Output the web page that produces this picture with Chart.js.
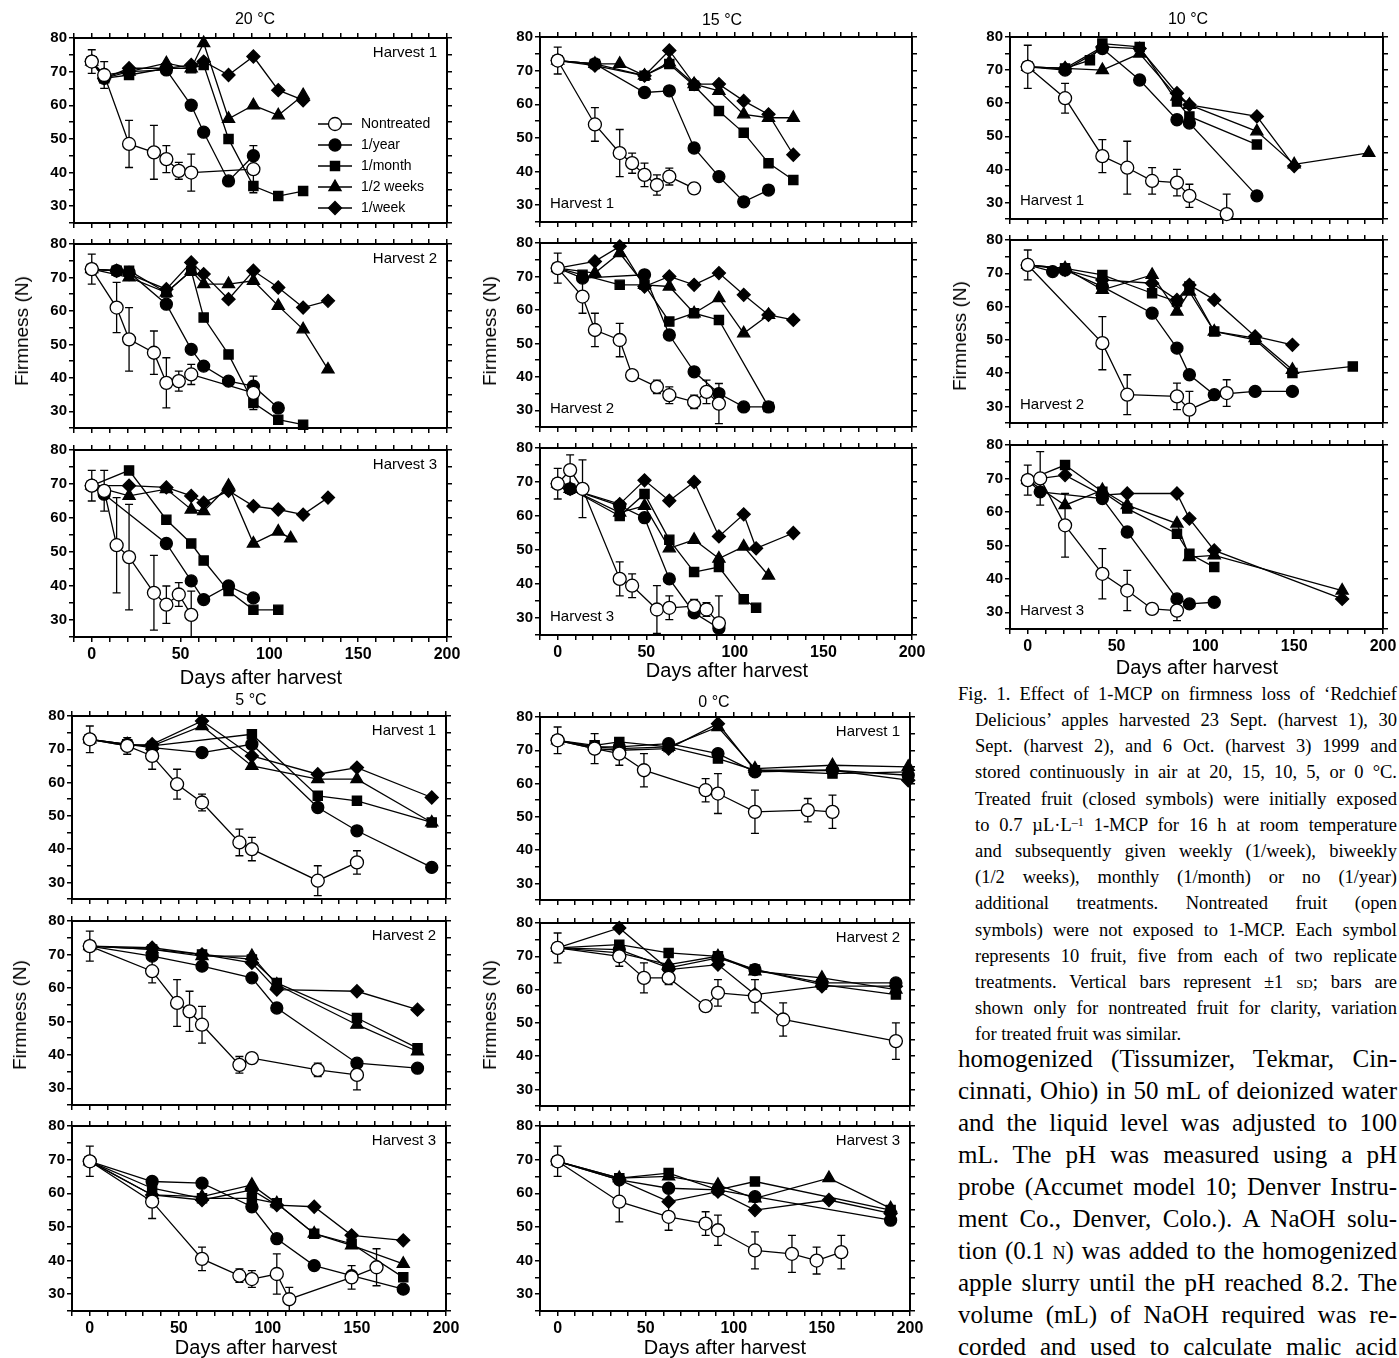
<!DOCTYPE html>
<html>
<head>
<meta charset="utf-8">
<script src="https://cdn.jsdelivr.net/npm/chart.js@4.4.1/dist/chart.umd.min.js"></script>
<style>
  body { margin: 0; background: #fff; width: 1399px; height: 1358px; position: relative; overflow: hidden;
         font-family: "Liberation Sans", Arial, sans-serif; color: #000; }
  canvas { position: absolute; }
  .lbl { position: absolute; white-space: nowrap; transform: translate(-50%, -50%); }
  .temp { font-size: 16px; }
  .xt { font-size: 20px; }
  .yt { font-size: 19px; transform: translate(-50%, -50%) rotate(-90deg); }
  .ln { position: absolute; white-space: nowrap; font-family: "Liberation Serif", "Times New Roman", serif; }
  .sc { font-variant: small-caps; }
  sup { font-size: 65%; vertical-align: 0.45em; line-height: 0; }
</style>
</head>
<body>
<script>
const seriesLabels = ["Nontreated", "1/year", "1/month", "1/2 weeks", "1/week"];
const yTickLabels = [30, 40, 50, 60, 70, 80];
const xTickLabels = [0, 50, 100, 150, 200];

// values: [days after harvest, firmness (N)]; Sd = error bar for nontreated fruit

// 20 °C
const c20h1Non = [[0,73],[7,69],[21,48.5],[35,46],[42,44],[49,40.5],[56,40],[91,41]];
const c20h1Sd = [3.5,4,7,8,4,2.5,5.5,7];
const c20h1Year = [[0,73],[7,68],[21,70],[42,70.5],[56,60],[63,52],[77,37.5],[91,45]];
const c20h1Month = [[0,73],[7,68],[21,69],[42,71],[56,71],[63,72],[77,50],[91,36],[105,33],[119,34.5]];
const c20h1Biweek = [[0,73],[7,69],[21,70],[42,72.5],[56,71],[63,78.5],[77,56],[91,60],[105,57],[119,63]];
const c20h1Week = [[0,73],[7,68],[21,71],[42,71],[56,72],[63,73],[77,69],[91,74.5],[105,64.5],[119,61.5]];

const c20h2Non = [[0,72.5],[14,61],[21,51.5],[35,47.5],[42,38.5],[49,39],[56,41],[91,35.5]];
const c20h2Sd = [4.5,7.5,9.5,6.5,7.5,3,3,5];
const c20h2Year = [[0,72.5],[14,72],[21,71.5],[42,62],[56,48.5],[63,43.5],[77,39],[91,37.5],[105,31]];
const c20h2Month = [[0,72.5],[14,72],[21,72],[42,65.5],[56,72],[63,58],[77,47],[91,32.5],[105,27.5],[119,26]];
const c20h2Biweek = [[0,72.5],[21,70],[42,65.5],[56,72],[63,68],[77,68],[91,69],[105,61.5],[119,54.5],[133,42.5]];
const c20h2Week = [[0,72.5],[14,72],[21,71],[42,66.5],[56,74.5],[63,71],[77,63.5],[91,72],[105,67],[119,61],[133,63]];

const c20h3Non = [[0,69.5],[7,68],[14,52],[21,48.5],[35,38],[42,34.5],[49,37.5],[56,31.5]];
const c20h3Sd = [4.5,6,14,15.5,11,5.5,3.5,7];
const c20h3Year = [[0,69.5],[7,67],[42,52.5],[56,41.5],[63,36],[77,40],[91,36.5]];
const c20h3Month = [[0,69.5],[21,74],[42,59.5],[56,52.5],[63,47.5],[77,38.5],[91,33],[105,33]];
const c20h3Biweek = [[0,69.5],[21,66.5],[42,68.5],[56,62.5],[63,62],[77,69.5],[91,52.5],[105,56],[112,54]];
const c20h3Week = [[0,69.5],[21,69.5],[42,69],[56,66.5],[63,64.5],[77,68],[91,63.5],[105,62.5],[119,61],[133,66]];

// 15 °C
const c15h1Non = [[0,73],[21,54],[35,45.5],[42,42.5],[49,39],[56,36],[63,38.5],[77,35]];
const c15h1Sd = [4,5,7,3,3.5,3,2.5,1.5];
const c15h1Year = [[0,73],[21,72],[49,63.5],[63,64],[77,47],[91,38.5],[105,31],[119,34.5]];
const c15h1Month = [[0,73],[21,72],[49,68.5],[63,72],[77,65.5],[91,58],[105,51.5],[119,42.5],[133,37.5]];
const c15h1Biweek = [[0,73],[21,72],[35,72],[49,68.5],[63,72.5],[77,66],[91,64],[105,57],[119,56],[133,56]];
const c15h1Week = [[0,73],[21,71.5],[49,68.5],[63,76],[77,66],[91,66],[105,61],[119,57],[133,45]];

const c15h2Non = [[0,72.5],[14,64],[21,54],[35,51],[42,40.5],[56,37],[63,34.5],[77,32.5],[84,35.5],[91,32]];
const c15h2Sd = [4.5,5,5,5,1,2,2.5,2,3.5,6];
const c15h2Year = [[0,72.5],[14,69.5],[49,70.5],[63,52.5],[77,41.5],[91,35],[105,31],[119,31]];
const c15h2Month = [[0,72.5],[14,70.5],[35,67.5],[49,67.5],[63,56.5],[77,59],[91,57],[119,31]];
const c15h2Biweek = [[0,72.5],[21,71],[35,77],[49,67.5],[63,67],[77,59],[91,63.5],[105,53],[119,58.5]];
const c15h2Week = [[0,72.5],[21,74.5],[35,79],[49,67],[63,70],[77,67.5],[91,71],[105,64.5],[119,58.5],[133,57]];

const c15h3Non = [[0,69.5],[7,73.5],[14,68],[35,41.5],[42,39.5],[56,32.5],[63,33],[77,33.5],[84,32.5],[91,28.5]];
const c15h3Sd = [4.5,4.5,8.5,5,3.5,7,3.5,2,2,8];
const c15h3Year = [[0,69.5],[7,68],[35,63],[49,59.5],[63,41.5],[77,31.5],[91,27]];
const c15h3Month = [[0,69.5],[7,68],[35,60],[49,66.5],[63,53],[77,43.5],[91,45],[105,35.5],[112,33]];
const c15h3Biweek = [[0,69.5],[7,68],[35,61],[49,63],[63,50.5],[77,53],[91,47.5],[105,51],[119,42.5]];
const c15h3Week = [[0,69.5],[7,68],[35,63.5],[49,70.5],[63,64.5],[77,70],[91,54],[105,60.5],[112,50.5],[133,55]];

// 10 °C
const c10h1Non = [[0,71],[21,61.5],[42,44],[56,40.5],[70,36.5],[84,36],[91,32],[112,26.5]];
const c10h1Sd = [6.5,4.5,5,8,4,4,3.5,6];
const c10h1Year = [[0,71],[21,70],[42,76.5],[63,67],[84,55],[91,54],[129,32]];
const c10h1Month = [[0,71],[21,70.5],[35,73],[42,78],[63,77],[84,60.5],[91,56],[129,47.5]];
const c10h1Biweek = [[0,71],[21,70.5],[42,70],[63,75],[84,62],[91,59.5],[129,51.5],[150,41.5],[192,45]];
const c10h1Week = [[0,71],[21,70.5],[42,77],[63,76.5],[84,63],[91,59.5],[129,56],[150,41]];

const c10h2Non = [[0,72.5],[42,49],[56,33.5],[84,33],[91,29],[112,34]];
const c10h2Sd = [4.5,8,6,4,5.5,4];
const c10h2Year = [[0,72.5],[14,70.5],[21,71],[42,66],[70,58],[84,47.5],[91,39.5],[105,33.5],[128,34.5],[149,34.5]];
const c10h2Month = [[0,72.5],[21,71.5],[42,69.5],[70,64],[84,61.5],[91,66],[105,52.5],[128,50],[149,40],[183,42]];
const c10h2Biweek = [[0,72.5],[21,71.5],[42,65],[70,69.5],[84,58.5],[91,64.5],[105,52.5],[128,50.5],[149,41]];
const c10h2Week = [[0,72.5],[21,71],[42,68],[70,67],[84,62],[91,66.5],[105,62],[128,51],[149,48.5]];

const c10h3Non = [[0,69.5],[7,70],[21,56],[42,41.5],[56,36.5],[70,31],[84,30.5]];
const c10h3Sd = [4.5,8,9.5,7.5,6,1.5,3];
const c10h3Year = [[0,69.5],[7,66],[42,64],[56,54],[84,34],[91,32.5],[105,33]];
const c10h3Month = [[0,69.5],[21,74],[42,66],[56,61],[84,53.5],[91,47.5],[105,43.5]];
const c10h3Biweek = [[0,69.5],[21,62],[42,66.5],[56,62],[84,56.5],[91,46.5],[105,47],[177,36.5]];
const c10h3Week = [[0,69.5],[21,71],[42,65],[56,65.5],[84,65.5],[91,58],[105,48.5],[177,34]];

// 5 °C
const c5h1Non = [[0,73],[21,71],[35,68],[49,59.5],[63,54],[84,42],[91,40],[128,30.5],[150,36]];
const c5h1Sd = [4,2.5,4,4.5,2.5,4,3.5,4.5,3.5];
const c5h1Year = [[0,73],[21,71.5],[35,70.5],[63,69],[91,71.5],[128,52.5],[150,45.5],[192,34.5]];
const c5h1Month = [[0,73],[21,71.5],[35,71],[91,74.5],[128,56],[150,54.5],[192,48]];
const c5h1Biweek = [[0,73],[21,71.5],[35,71],[63,77],[91,65],[128,61],[150,61],[192,48]];
const c5h1Week = [[0,73],[21,71],[35,71.5],[63,78.5],[91,68],[128,62.5],[150,64.5],[192,55.5]];

const c5h2Non = [[0,72.5],[35,65],[49,55.5],[56,53],[63,49],[84,37],[91,39],[128,35.5],[150,34]];
const c5h2Sd = [4.5,3.5,7,6,5.5,2.5,1,2,4.5];
const c5h2Year = [[0,72.5],[35,69.5],[63,66.5],[91,63],[105,54],[150,37.5],[184,36]];
const c5h2Month = [[0,72.5],[35,71.5],[63,70],[91,68.5],[105,61.5],[150,51],[184,42]];
const c5h2Biweek = [[0,72.5],[35,71.5],[63,69.5],[91,69.5],[105,61],[150,49],[184,41]];
const c5h2Week = [[0,72.5],[35,72],[63,70],[91,67.5],[105,59.5],[150,59],[184,53.5]];

const c5h3Non = [[0,69.5],[35,57.5],[63,40.5],[84,35.5],[91,34.5],[105,36],[112,28.5],[147,35],[161,38]];
const c5h3Sd = [4.5,5,3.5,2,2.5,6,3.5,3.5,5.5];
const c5h3Year = [[0,69.5],[35,63.5],[63,63],[91,56],[105,46.5],[126,38.5],[147,35.5],[176,31.5]];
const c5h3Month = [[0,69.5],[35,61.5],[63,58.5],[91,58.5],[105,57],[126,48],[147,45],[176,35]];
const c5h3Biweek = [[0,69.5],[35,59.5],[63,59],[91,62.5],[105,57],[126,48],[147,44.5],[176,39]];
const c5h3Week = [[0,69.5],[35,59.5],[63,58],[91,61],[105,56.5],[126,56],[147,47.5],[176,46]];

// 0 °C
const c0h1Non = [[0,73],[21,70.5],[35,69],[49,64],[84,58],[91,57],[112,51.5],[142,52],[156,51.5]];
const c0h1Sd = [4,4.5,3.5,5,3.5,6,6.5,3.5,5];
const c0h1Year = [[0,73],[21,71],[35,71],[63,72],[91,69],[112,63.5],[156,64],[199,62.5]];
const c0h1Month = [[0,73],[21,71.5],[35,72.5],[63,71],[91,67.5],[112,64],[156,63],[199,63.5]];
const c0h1Biweek = [[0,73],[21,71],[35,70.5],[63,71],[91,77],[112,64.5],[156,65.5],[199,65]];
const c0h1Week = [[0,73],[21,70.5],[35,70],[63,70.5],[91,78],[112,64],[156,64],[199,61]];

const c0h2Non = [[0,72.5],[35,70],[49,63.5],[63,63.5],[84,55],[91,59],[112,58],[128,51],[192,44.5]];
const c0h2Sd = [4.5,3,4.5,2,1,4,5,5,5.5];
const c0h2Year = [[0,72.5],[35,72],[63,66.5],[91,69.5],[112,66],[150,62],[192,62]];
const c0h2Month = [[0,72.5],[35,73.5],[63,71],[91,70],[112,66],[150,61.5],[192,58.5]];
const c0h2Biweek = [[0,72.5],[35,71],[63,67.5],[91,70],[112,65.5],[150,63.5],[192,60]];
const c0h2Week = [[0,72.5],[35,78.5],[63,66],[91,67.5],[112,58.5],[150,61],[192,61]];

const c0h3Non = [[0,69.5],[35,57.5],[63,53],[84,51],[91,49],[112,43],[133,42],[147,40],[161,42.5]];
const c0h3Sd = [4.5,6,4,3.5,4.5,5.5,5.5,4,5];
const c0h3Year = [[0,69.5],[35,64],[63,61.5],[91,61],[112,59],[189,52]];
const c0h3Month = [[0,69.5],[35,64.5],[63,66],[91,61],[112,63.5],[189,55]];
const c0h3Biweek = [[0,69.5],[35,64.5],[63,65],[91,62.5],[112,58.5],[154,64.5],[189,55.5]];
const c0h3Week = [[0,69.5],[35,64],[63,57.5],[91,60.5],[112,55],[154,58],[189,54]];

// panel boxes are the plot frames on the page: [left, top, right, bottom]
const panels = [
  { series: [c20h1Non, c20h1Year, c20h1Month, c20h1Biweek, c20h1Week], sd: c20h1Sd, text: "Harvest 1", pos: "tr", legend: true, box: [74, 38, 447, 225] },
  { series: [c20h2Non, c20h2Year, c20h2Month, c20h2Biweek, c20h2Week], sd: c20h2Sd, text: "Harvest 2", pos: "tr", box: [74, 244, 447, 430] },
  { series: [c20h3Non, c20h3Year, c20h3Month, c20h3Biweek, c20h3Week], sd: c20h3Sd, text: "Harvest 3", pos: "tr", xLabels: true, box: [74, 450, 447, 637] },
  { series: [c15h1Non, c15h1Year, c15h1Month, c15h1Biweek, c15h1Week], sd: c15h1Sd, text: "Harvest 1", pos: "bl", box: [540, 37, 912, 224] },
  { series: [c15h2Non, c15h2Year, c15h2Month, c15h2Biweek, c15h2Week], sd: c15h2Sd, text: "Harvest 2", pos: "bl", box: [540, 243, 912, 429] },
  { series: [c15h3Non, c15h3Year, c15h3Month, c15h3Biweek, c15h3Week], sd: c15h3Sd, text: "Harvest 3", pos: "bl", xLabels: true, box: [540, 448, 912, 635] },
  { series: [c10h1Non, c10h1Year, c10h1Month, c10h1Biweek, c10h1Week], sd: c10h1Sd, text: "Harvest 1", pos: "bl", box: [1010, 37, 1383, 221] },
  { series: [c10h2Non, c10h2Year, c10h2Month, c10h2Biweek, c10h2Week], sd: c10h2Sd, text: "Harvest 2", pos: "bl", box: [1010, 240, 1383, 425] },
  { series: [c10h3Non, c10h3Year, c10h3Month, c10h3Biweek, c10h3Week], sd: c10h3Sd, text: "Harvest 3", pos: "bl", xLabels: true, box: [1010, 445, 1383, 629] },
  { series: [c5h1Non, c5h1Year, c5h1Month, c5h1Biweek, c5h1Week], sd: c5h1Sd, text: "Harvest 1", pos: "tr", box: [72, 716, 446, 901] },
  { series: [c5h2Non, c5h2Year, c5h2Month, c5h2Biweek, c5h2Week], sd: c5h2Sd, text: "Harvest 2", pos: "tr", box: [72, 921, 446, 1107] },
  { series: [c5h3Non, c5h3Year, c5h3Month, c5h3Biweek, c5h3Week], sd: c5h3Sd, text: "Harvest 3", pos: "tr", xLabels: true, box: [72, 1126, 446, 1311] },
  { series: [c0h1Non, c0h1Year, c0h1Month, c0h1Biweek, c0h1Week], sd: c0h1Sd, text: "Harvest 1", pos: "tr", box: [540, 717, 910, 902] },
  { series: [c0h2Non, c0h2Year, c0h2Month, c0h2Biweek, c0h2Week], sd: c0h2Sd, text: "Harvest 2", pos: "tr", box: [540, 923, 910, 1108] },
  { series: [c0h3Non, c0h3Year, c0h3Month, c0h3Biweek, c0h3Week], sd: c0h3Sd, text: "Harvest 3", pos: "tr", xLabels: true, box: [540, 1126, 910, 1311] },
];

const markers = [
  { style: "circle", radius: 6.5, fill: "#fff" },
  { style: "circle", radius: 6, fill: "#000" },
  { style: "rect", radius: 6.5, fill: "#000" },
  { style: "triangle", radius: 7, fill: "#000" },
  { style: "rectRot", radius: 6.5, fill: "#000" },
];

const FONT = '"Liberation Sans", Arial, sans-serif';
const xTicks = [];
for (let v = -10; v <= 200; v += 10) xTicks.push(v);
const yTicks = [];
for (let v = 25; v <= 80; v += 5) yTicks.push(v);

// error bars for the nontreated series, drawn under the markers
const errorBars = {
  id: "errorBars",
  beforeDatasetsDraw(chart) {
    const { ctx, chartArea: a, scales } = chart;
    ctx.save();
    ctx.beginPath();
    ctx.rect(a.left, a.top, a.right - a.left, a.bottom - a.top);
    ctx.clip();
    ctx.strokeStyle = "#000";
    ctx.lineWidth = 1.3;
    chart.data.datasets.forEach(ds => {
      if (!ds.sd) return;
      ds.data.forEach((pt, i) => {
        const e = ds.sd[i];
        if (!e) return;
        const px = scales.x.getPixelForValue(pt.x);
        const top = scales.y.getPixelForValue(pt.y + e);
        const bot = scales.y.getPixelForValue(pt.y - e);
        ctx.beginPath();
        ctx.moveTo(px, top); ctx.lineTo(px, bot);
        ctx.moveTo(px - 4, top); ctx.lineTo(px + 4, top);
        ctx.moveTo(px - 4, bot); ctx.lineTo(px + 4, bot);
        ctx.stroke();
      });
    });
    ctx.restore();
  }
};

// "Harvest n" text and the legend in the first panel
const panelText = {
  id: "panelText",
  afterDatasetsDraw(chart, args, opts) {
    const { ctx, chartArea: a } = chart;
    ctx.save();
    ctx.fillStyle = "#000";
    ctx.font = "15px " + FONT;
    ctx.textBaseline = "middle";
    if (opts.pos === "tr") {
      ctx.textAlign = "right";
      ctx.fillText(opts.text, a.right - 10, a.top + 15);
    } else {
      ctx.textAlign = "left";
      ctx.fillText(opts.text, a.left + 10, a.bottom - 18);
    }
    if (opts.legend) {
      ctx.font = "14px " + FONT;
      ctx.textAlign = "left";
      seriesLabels.forEach((name, k) => {
        const y = a.top + 86 + k * 21;
        const x0 = a.left + 244;
        ctx.strokeStyle = "#000";
        ctx.lineWidth = 1.5;
        ctx.beginPath(); ctx.moveTo(x0, y); ctx.lineTo(x0 + 34, y); ctx.stroke();
        ctx.fillStyle = markers[k].fill;
        ctx.lineWidth = 1.3;
        Chart.helpers.drawPoint(ctx, { pointStyle: markers[k].style, radius: markers[k].radius, borderWidth: 1.3 }, x0 + 17, y);
        ctx.fillStyle = "#000";
        ctx.fillText(name, x0 + 43, y);
      });
    }
    ctx.restore();
  }
};

const gridOpts = { drawOnChartArea: false, drawTicks: true, tickLength: 5, color: "#000", lineWidth: 1.5 };
const borderOpts = { display: true, color: "#000", width: 2 };

panels.forEach(p => {
  const [L, T, R, B] = p.box;
  const padL = 42, padR = 7, padT = 7, padB = p.xLabels ? 30 : 7;
  const mR = 18, mT = 4, mB = 2;
  const cv = document.createElement("canvas");
  cv.width = R - L + padL + padR + mR;
  cv.height = B - T + padT + padB + mT + mB;
  cv.style.left = (L - padL) + "px";
  cv.style.top = (T - padT - mT) + "px";
  document.body.appendChild(cv);

  new Chart(cv, {
    type: "scatter",
    data: {
      datasets: p.series.map((pts, k) => ({
        label: seriesLabels[k],
        data: pts.map(([x, y]) => ({ x, y })),
        sd: k === 0 ? p.sd : null,
        showLine: true,
        borderColor: "#000",
        borderWidth: 1.3,
        pointStyle: markers[k].style,
        pointRadius: markers[k].radius,
        pointBackgroundColor: markers[k].fill,
        pointBorderColor: "#000",
        pointBorderWidth: 1.3,
        clip: 10,
      })),
    },
    options: {
      responsive: false,
      animation: false,
      events: [],
      layout: { padding: { left: 0, right: mR, top: mT, bottom: mB } },
      plugins: {
        legend: { display: false },
        tooltip: { enabled: false },
        panelText: { text: p.text, pos: p.pos, legend: !!p.legend },
      },
      scales: {
        x: {
          type: "linear", position: "bottom", min: -10, max: 200,
          afterBuildTicks: s => { s.ticks = xTicks.map(v => ({ value: v })); },
          afterFit: s => { s.height = padB; },
          grid: gridOpts, border: borderOpts,
          ticks: {
            display: !!p.xLabels, autoSkip: false, maxRotation: 0, padding: 3, color: "#000",
            font: { family: FONT, size: 16, weight: "bold" },
            callback: v => xTickLabels.includes(v) ? String(v) : "",
          },
        },
        xTop: {
          type: "linear", position: "top", min: -10, max: 200,
          afterBuildTicks: s => { s.ticks = xTicks.map(v => ({ value: v })); },
          afterFit: s => { s.height = padT; },
          grid: gridOpts, border: borderOpts,
          ticks: { display: false },
        },
        y: {
          type: "linear", position: "left", min: 25, max: 80,
          afterBuildTicks: s => { s.ticks = yTicks.map(v => ({ value: v })); },
          afterFit: s => { s.width = padL; },
          grid: gridOpts, border: borderOpts,
          ticks: {
            autoSkip: false, padding: 2, color: "#000",
            font: { family: FONT, size: 15, weight: "bold" },
            callback: v => yTickLabels.includes(v) ? String(v) : "",
          },
        },
        yRight: {
          type: "linear", position: "right", min: 25, max: 80,
          afterBuildTicks: s => { s.ticks = yTicks.map(v => ({ value: v })); },
          afterFit: s => { s.width = padR; },
          grid: gridOpts, border: borderOpts,
          ticks: { display: false },
        },
      },
    },
    plugins: [errorBars, panelText],
  });
});

// titles and axis names
const labels = [
  ["temp", "20 °C", 255, 19], ["temp", "15 °C", 722, 20], ["temp", "10 °C", 1188, 19],
  ["temp", "5 °C", 251, 700], ["temp", "0 °C", 714, 702],
  ["yt", "Firmness (N)", 22, 331], ["yt", "Firmness (N)", 490, 331], ["yt", "Firmness (N)", 960, 336],
  ["yt", "Firmness (N)", 20, 1015], ["yt", "Firmness (N)", 490, 1015],
  ["xt", "Days after harvest", 261, 677], ["xt", "Days after harvest", 727, 670], ["xt", "Days after harvest", 1197, 667],
  ["xt", "Days after harvest", 256, 1347], ["xt", "Days after harvest", 725, 1347],
];
labels.forEach(([cls, txt, x, y]) => {
  const d = document.createElement("div");
  d.className = "lbl " + cls;
  d.textContent = txt;
  d.style.left = x + "px";
  d.style.top = y + "px";
  document.body.appendChild(d);
});

// figure caption and body text
const captionLines = [
  "Fig. 1. Effect of 1-MCP on firmness loss of ‘Redchief",
  "Delicious’ apples harvested 23 Sept. (harvest 1), 30",
  "Sept. (harvest 2), and 6 Oct. (harvest 3) 1999 and",
  "stored continuously in air at 20, 15, 10, 5, or 0 °C.",
  "Treated fruit (closed symbols) were initially exposed",
  "to 0.7 µL·L<sup>–1</sup> 1-MCP for 16 h at room temperature",
  "and subsequently given weekly (1/week), biweekly",
  "(1/2 weeks), monthly (1/month) or no (1/year)",
  "additional treatments. Nontreated fruit (open",
  "symbols) were not exposed to 1-MCP. Each symbol",
  "represents 10 fruit, five from each of two replicate",
  "treatments. Vertical bars represent ±1 <span class=\"sc\">sd</span>; bars are",
  "shown only for nontreated fruit for clarity, variation",
  "for treated fruit was similar.",
];
const bodyLines = [
  "homogenized (Tissumizer, Tekmar, Cin-",
  "cinnati, Ohio) in 50 mL of deionized water",
  "and the liquid level was adjusted to 100",
  "mL. The pH was measured using a pH",
  "probe (Accumet model 10; Denver Instru-",
  "ment Co., Denver, Colo.). A NaOH solu-",
  "tion (0.1 <span class=\"sc\">n</span>) was added to the homogenized",
  "apple slurry until the pH reached 8.2. The",
  "volume (mL) of NaOH required was re-",
  "corded and used to calculate malic acid",
];

function placeLines(lines, opt) {
  lines.forEach((html, i) => {
    const el = document.createElement("span");
    el.className = "ln";
    el.innerHTML = html;
    const x = i === 0 ? opt.x0 : opt.x1;
    el.style.left = x + "px";
    el.style.fontSize = opt.size + "px";
    el.style.lineHeight = opt.size + "px";
    el.style.top = (opt.y0 + i * opt.step - opt.size / 2) + "px";
    document.body.appendChild(el);
    if (opt.justifyLast || i < lines.length - 1) {
      const target = opt.right - x;
      const natural = el.getBoundingClientRect().width;
      const spaces = (el.textContent.match(/ /g) || []).length;
      if (spaces) el.style.wordSpacing = ((target - natural) / spaces) + "px";
    }
  });
}
placeLines(captionLines, { x0: 958, x1: 975, right: 1397, y0: 694, step: 26.2, size: 18.5 });
placeLines(bodyLines, { x0: 958, x1: 958, right: 1397, y0: 1058, step: 32.1, size: 25, justifyLast: true });
</script>
</body>
</html>
